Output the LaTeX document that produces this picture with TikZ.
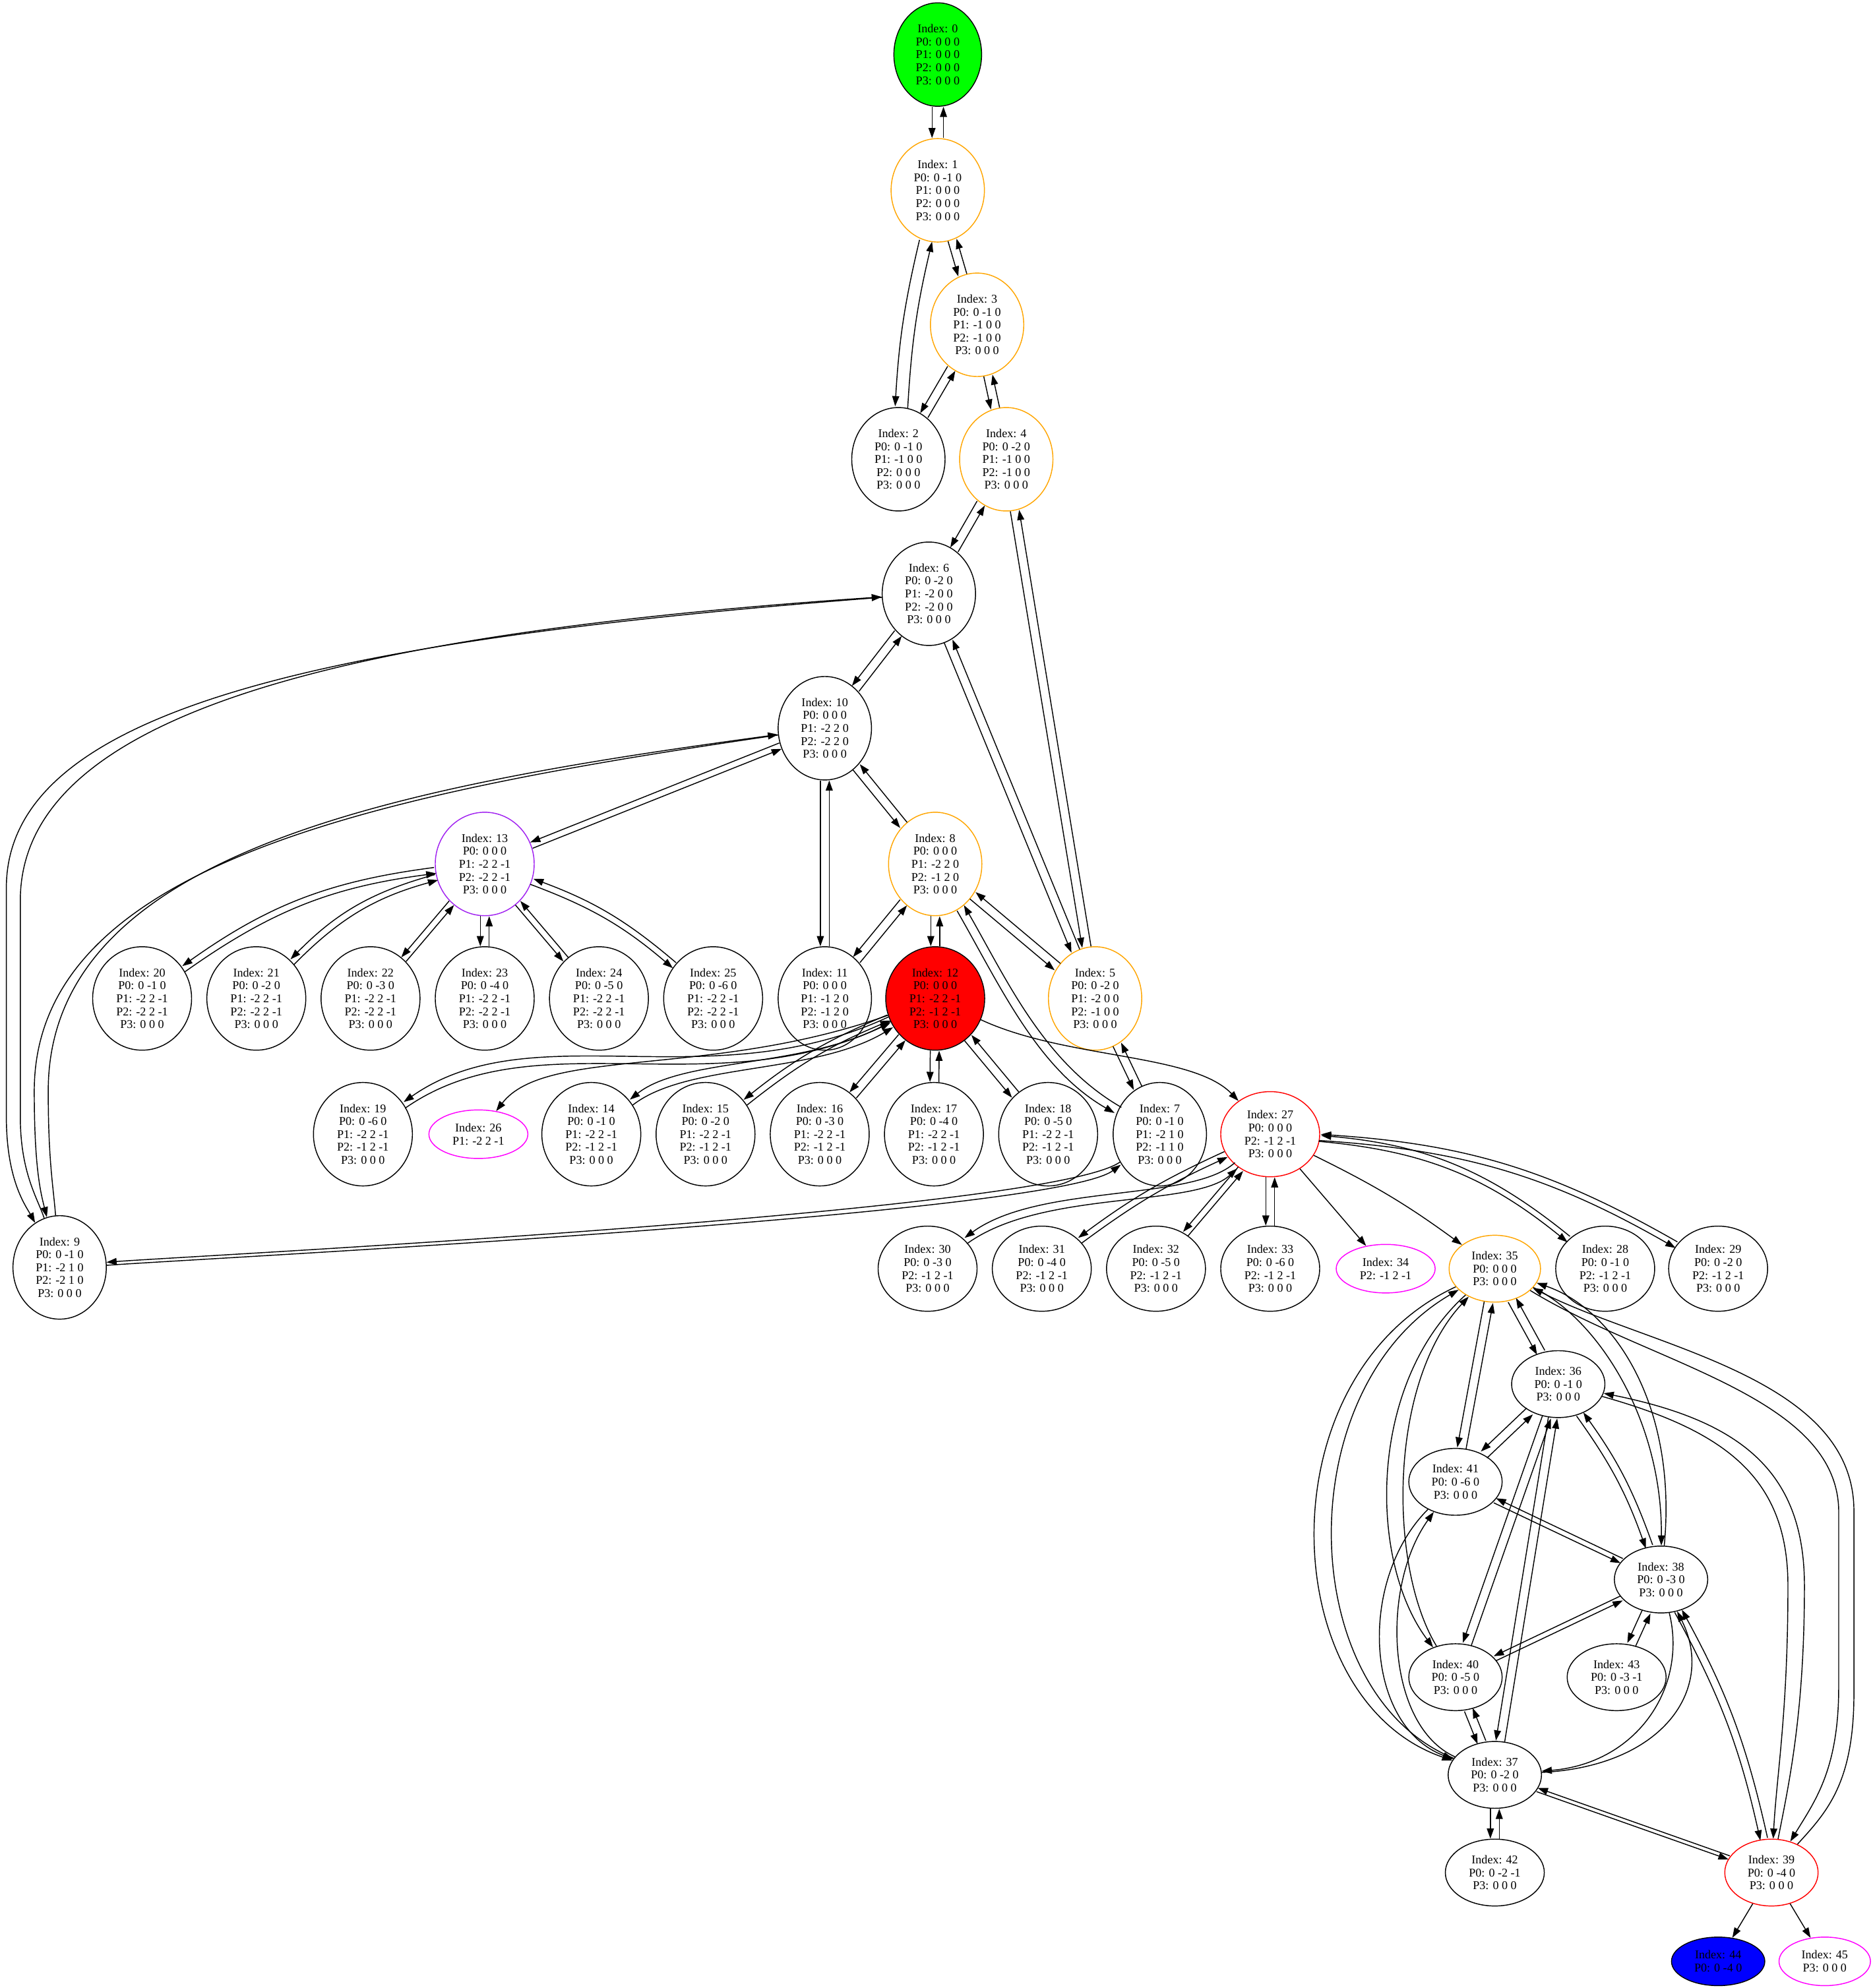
\documentclass[tikz,border=0pt]{standalone}
\usepackage{fontspec}
\setmainfont{Liberation Serif}
\definecolor{gvgreen}{HTML}{00FF00}
\definecolor{gvorange}{HTML}{FFA500}
\definecolor{gvpurple}{HTML}{A020F0}
\definecolor{gvred}{HTML}{FF0000}
\definecolor{gvmagenta}{HTML}{FF00FF}
\definecolor{gvblue}{HTML}{0000FF}
\usetikzlibrary{arrows.meta, shapes.geometric, calc}
\tikzset{
  state/.style={ellipse, draw, line width=0.75pt, align=center, inner xsep=7.2pt, inner ysep=5.1pt, font=\fontsize{9.4}{10.2}\selectfont},
  link/.style={line width=0.75pt},
  fwd/.style={-{Triangle[length=8pt, width=5.5pt]}},
  bwd/.style={{Triangle[length=8pt, width=5.5pt]}-}
}
% two edges a->b and b->a, side by side
\newcommand{\twoway}[4][3.5pt]{%
  \pgfpointdiff{\pgfpointanchor{#2}{center}}{\pgfpointanchor{#3}{center}}%
  \pgfgetlastxy{\twodx}{\twody}%
  \pgfmathsetmacro{\twoang}{atan2(\twody,\twodx)}%
  \draw[link, fwd, transform canvas={shift={(\twoang-90:#1)}}] (#2) #4 (#3);
  \draw[link, bwd, transform canvas={shift={(\twoang+90:#1)}}] (#2) #4 (#3);
}
\begin{document}
\begin{tikzpicture}[x=1pt, y=1pt]
\useasboundingbox (0,0) rectangle (1476,-1567);
% upper part
\node[state, fill=gvgreen] (s0) at (739,-43) {Index: 0\\P0: 0 0 0\\P1: 0 0 0\\P2: 0 0 0\\P3: 0 0 0};
\node[state, draw=gvorange] (s1) at (739,-150) {Index: 1\\P0: 0 -1 0\\P1: 0 0 0\\P2: 0 0 0\\P3: 0 0 0};
\node[state] (s2) at (708,-362) {Index: 2\\P0: 0 -1 0\\P1: -1 0 0\\P2: 0 0 0\\P3: 0 0 0};
\node[state, draw=gvorange] (s3) at (770,-256) {Index: 3\\P0: 0 -1 0\\P1: -1 0 0\\P2: -1 0 0\\P3: 0 0 0};
\node[state, draw=gvorange] (s4) at (793,-362) {Index: 4\\P0: 0 -2 0\\P1: -1 0 0\\P2: -1 0 0\\P3: 0 0 0};
\node[state, draw=gvorange] (s5) at (863,-787) {Index: 5\\P0: 0 -2 0\\P1: -2 0 0\\P2: -1 0 0\\P3: 0 0 0};
\node[state] (s6) at (732,-468) {Index: 6\\P0: 0 -2 0\\P1: -2 0 0\\P2: -2 0 0\\P3: 0 0 0};
\node[state] (s7) at (914,-894) {Index: 7\\P0: 0 -1 0\\P1: -2 1 0\\P2: -1 1 0\\P3: 0 0 0};
\node[state, draw=gvorange] (s8) at (737,-681) {Index: 8\\P0: 0 0 0\\P1: -2 2 0\\P2: -1 2 0\\P3: 0 0 0};
\node[state] (s9) at (47,-999) {Index: 9\\P0: 0 -1 0\\P1: -2 1 0\\P2: -2 1 0\\P3: 0 0 0};
\node[state] (s10) at (650,-574) {Index: 10\\P0: 0 0 0\\P1: -2 2 0\\P2: -2 2 0\\P3: 0 0 0};
\node[state] (s11) at (650,-787) {Index: 11\\P0: 0 0 0\\P1: -1 2 0\\P2: -1 2 0\\P3: 0 0 0};
\node[state, fill=gvred] (s12) at (737,-787) {Index: 12\\P0: 0 0 0\\P1: -2 2 -1\\P2: -1 2 -1\\P3: 0 0 0};
\node[state, draw=gvpurple] (s13) at (382,-681) {Index: 13\\P0: 0 0 0\\P1: -2 2 -1\\P2: -2 2 -1\\P3: 0 0 0};
% children of 13
\node[state] (s20) at (112,-787) {Index: 20\\P0: 0 -1 0\\P1: -2 2 -1\\P2: -2 2 -1\\P3: 0 0 0};
\node[state] (s21) at (202,-787) {Index: 21\\P0: 0 -2 0\\P1: -2 2 -1\\P2: -2 2 -1\\P3: 0 0 0};
\node[state] (s22) at (292,-787) {Index: 22\\P0: 0 -3 0\\P1: -2 2 -1\\P2: -2 2 -1\\P3: 0 0 0};
\node[state] (s23) at (382,-787) {Index: 23\\P0: 0 -4 0\\P1: -2 2 -1\\P2: -2 2 -1\\P3: 0 0 0};
\node[state] (s24) at (472,-787) {Index: 24\\P0: 0 -5 0\\P1: -2 2 -1\\P2: -2 2 -1\\P3: 0 0 0};
\node[state] (s25) at (562,-787) {Index: 25\\P0: 0 -6 0\\P1: -2 2 -1\\P2: -2 2 -1\\P3: 0 0 0};
% children of 12
\node[state] (s19) at (286,-894) {Index: 19\\P0: 0 -6 0\\P1: -2 2 -1\\P2: -1 2 -1\\P3: 0 0 0};
\node[state, draw=gvmagenta] (s26) at (377,-894) {Index: 26\\P1: -2 2 -1};
\node[state] (s14) at (466,-894) {Index: 14\\P0: 0 -1 0\\P1: -2 2 -1\\P2: -1 2 -1\\P3: 0 0 0};
\node[state] (s15) at (556,-894) {Index: 15\\P0: 0 -2 0\\P1: -2 2 -1\\P2: -1 2 -1\\P3: 0 0 0};
\node[state] (s16) at (646,-894) {Index: 16\\P0: 0 -3 0\\P1: -2 2 -1\\P2: -1 2 -1\\P3: 0 0 0};
\node[state] (s17) at (736,-894) {Index: 17\\P0: 0 -4 0\\P1: -2 2 -1\\P2: -1 2 -1\\P3: 0 0 0};
\node[state] (s18) at (826,-894) {Index: 18\\P0: 0 -5 0\\P1: -2 2 -1\\P2: -1 2 -1\\P3: 0 0 0};
\node[state, draw=gvred] (s27) at (1001,-894) {Index: 27\\P0: 0 0 0\\P2: -1 2 -1\\P3: 0 0 0};
% children of 27
\node[state] (s30) at (731,-1000) {Index: 30\\P0: 0 -3 0\\P2: -1 2 -1\\P3: 0 0 0};
\node[state] (s31) at (821,-1000) {Index: 31\\P0: 0 -4 0\\P2: -1 2 -1\\P3: 0 0 0};
\node[state] (s32) at (911,-1000) {Index: 32\\P0: 0 -5 0\\P2: -1 2 -1\\P3: 0 0 0};
\node[state] (s33) at (1001,-1000) {Index: 33\\P0: 0 -6 0\\P2: -1 2 -1\\P3: 0 0 0};
\node[state, draw=gvmagenta] (s34) at (1092,-1000) {Index: 34\\P2: -1 2 -1};
\node[state, draw=gvorange] (s35) at (1178,-1000) {Index: 35\\P0: 0 0 0\\P3: 0 0 0};
\node[state] (s28) at (1265,-1000) {Index: 28\\P0: 0 -1 0\\P2: -1 2 -1\\P3: 0 0 0};
\node[state] (s29) at (1354,-1000) {Index: 29\\P0: 0 -2 0\\P2: -1 2 -1\\P3: 0 0 0};
% lower cluster
\node[state] (s36) at (1228,-1091) {Index: 36\\P0: 0 -1 0\\P3: 0 0 0};
\node[state] (s41) at (1147,-1168) {Index: 41\\P0: 0 -6 0\\P3: 0 0 0};
\node[state] (s38) at (1309,-1245) {Index: 38\\P0: 0 -3 0\\P3: 0 0 0};
\node[state] (s40) at (1147,-1322) {Index: 40\\P0: 0 -5 0\\P3: 0 0 0};
\node[state] (s43) at (1274,-1322) {Index: 43\\P0: 0 -3 -1\\P3: 0 0 0};
\node[state] (s37) at (1178,-1399) {Index: 37\\P0: 0 -2 0\\P3: 0 0 0};
\node[state] (s42) at (1178,-1476) {Index: 42\\P0: 0 -2 -1\\P3: 0 0 0};
\node[state, draw=gvred] (s39) at (1396,-1476) {Index: 39\\P0: 0 -4 0\\P3: 0 0 0};
\node[state, fill=gvblue] (s44) at (1354,-1546) {Index: 44\\P0: 0 -4 0};
\node[state, draw=gvmagenta] (s45) at (1438,-1546) {Index: 45\\P3: 0 0 0};

% edges, upper part
\twoway[4.5pt]{s0}{s1}{--}
\twoway[5pt]{s1}{s2}{to[bend right=5]}
\twoway{s1}{s3}{--}
\twoway{s3}{s2}{--}
\twoway{s3}{s4}{--}
\twoway{s4}{s6}{--}
\twoway{s4}{s5}{--}
\twoway{s6}{s10}{--}
\twoway{s6}{s5}{--}
\twoway[2.5pt]{s10}{s13}{--}
\twoway{s10}{s8}{--}
\twoway{s10}{s11}{--}
\twoway{s8}{s11}{--}
\twoway{s8}{s12}{--}
\twoway{s8}{s5}{--}
\twoway{s8}{s7}{.. controls (791,-775) and (820,-840) ..}
\twoway{s5}{s7}{--}
\twoway[1.2pt]{s7}{s9}{.. controls (829,-957) and (151,-991) ..}
\draw[link, fwd] (s6) .. controls (250,-505) and (5,-560) .. (5,-700) -- (5,-880) .. controls (5,-930) and (20,-950) .. (s9);
\draw[link, bwd] (s6) .. controls (260,-500) and (16,-565) .. (16,-710) -- (16,-880) .. controls (16,-925) and (30,-945) .. (s9);
\draw[link, fwd] (s10) .. controls (300,-625) and (27,-680) .. (27,-860) .. controls (27,-920) and (32,-940) .. (s9);
\draw[link, bwd] (s10) .. controls (310,-620) and (38,-672) .. (38,-860) .. controls (38,-915) and (42,-935) .. (s9);
% fan of 13
\twoway{s13}{s23}{--}
\twoway[2.5pt]{s13}{s22}{--}
\twoway[2.5pt]{s13}{s24}{--}
\twoway[2.5pt]{s13}{s21}{to[bend right=15]}
\twoway[2.5pt]{s13}{s20}{to[bend right=14]}
\twoway[2.5pt]{s13}{s25}{to[bend left=10]}
% fan of 12
\twoway{s12}{s17}{--}
\twoway{s12}{s18}{--}
\twoway{s12}{s16}{--}
\twoway[2.5pt]{s12}{s15}{to[bend right=8]}
\twoway[2.5pt]{s12}{s14}{.. controls (640,-845) and (540,-835) ..}
\twoway[2.5pt]{s12}{s19}{.. controls (560,-870) and (420,-800) ..}
\draw[link, fwd] (s12) .. controls (560,-850) and (430,-825) .. (s26);
\draw[link, fwd] (s12) .. controls (840,-835) and (940,-830) .. (s27);
% fan of 27
\twoway{s27}{s33}{--}
\twoway[2.5pt]{s27}{s32}{--}
\twoway[2.5pt]{s27}{s31}{to[bend right=6]}
\twoway[2.5pt]{s27}{s30}{.. controls (940,-950) and (820,-935) ..}
\twoway[2.5pt]{s27}{s28}{to[bend left=17]}
\twoway[2.5pt]{s27}{s29}{to[bend left=13]}
\draw[link, fwd] (s27) -- (s34);
\draw[link, fwd] (s27) to[bend left=5] (s35);
% lower cluster
\twoway{s35}{s36}{--}
\twoway{s35}{s41}{--}
\draw[link, fwd] (s35) .. controls (995,-1085) and (1005,-1340) .. (s37);
\draw[link, bwd] (s35) .. controls (1015,-1095) and (1020,-1335) .. (s37);
\draw[link, fwd] (s35) .. controls (1078,-1090) and (1078,-1230) .. (s40);
\draw[link, bwd] (s35) .. controls (1094,-1090) and (1094,-1235) .. (s40);
\draw[link, fwd] (s35) .. controls (1260,-1040) and (1310,-1120) .. (s38);
\draw[link, bwd] (s35) .. controls (1272,-1032) and (1322,-1108) .. (s38);
\draw[link, fwd] (s35) .. controls (1300,-1075) and (1447,-1100) .. (1449,-1190) -- (1449,-1330) .. controls (1449,-1395) and (1430,-1420) .. (s39);
\draw[link, bwd] (s35) .. controls (1300,-1062) and (1460,-1085) .. (1461,-1190) -- (1461,-1335) .. controls (1461,-1405) and (1440,-1428) .. (s39);
\draw[link, fwd] (s36) .. controls (1360,-1128) and (1409,-1165) .. (1409,-1250) .. controls (1409,-1350) and (1400,-1400) .. (s39);
\draw[link, bwd] (s36) .. controls (1372,-1120) and (1422,-1160) .. (1422,-1250) .. controls (1422,-1350) and (1410,-1405) .. (s39);
\draw[link, fwd] (s41) .. controls (1070,-1245) and (1075,-1360) .. (s37);
\draw[link, bwd] (s41) .. controls (1088,-1250) and (1092,-1360) .. (s37);
\draw[link, fwd] (s38) .. controls (1330,-1330) and (1290,-1390) .. (s37);
\draw[link, bwd] (s38) .. controls (1352,-1330) and (1312,-1392) .. (s37);
\twoway{s36}{s41}{--}
\twoway{s36}{s40}{--}
\twoway{s36}{s37}{--}
\twoway[3pt]{s36}{s38}{to[bend left=8]}
\twoway[2pt]{s41}{s38}{--}
\twoway[2pt]{s40}{s38}{--}
\twoway{s38}{s43}{--}
\twoway[3pt]{s38}{s39}{to[bend left=8]}
\twoway{s40}{s37}{--}
\twoway{s37}{s42}{--}
\twoway[1.5pt]{s37}{s39}{--}
\draw[link, fwd] (s39) -- (s44);
\draw[link, fwd] (s39) -- (s45);
\end{tikzpicture}
\end{document}
